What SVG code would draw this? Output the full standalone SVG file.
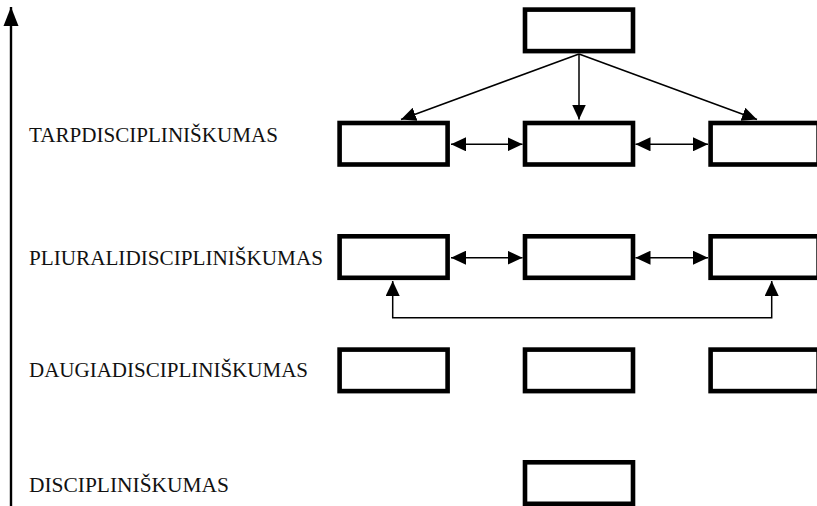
<svg xmlns="http://www.w3.org/2000/svg" width="817" height="506" viewBox="0 0 817 506">
<style>
.box{fill:#fff;stroke:#000;stroke-width:4.6}
.ln{fill:none;stroke:#000;stroke-width:1.5}
.lbl{font-family:"Liberation Serif","Times New Roman",serif;font-size:20px;fill:#111}
</style>
<defs>
<marker id="ah" markerUnits="userSpaceOnUse" markerWidth="16" markerHeight="14" refX="15" refY="7" orient="auto-start-reverse" viewBox="0 0 16 14">
<path d="M0,0 L15,7 L0,14 Z" fill="#000"/>
</marker>
<marker id="ax" markerUnits="userSpaceOnUse" markerWidth="20" markerHeight="16" refX="19" refY="8" orient="auto" viewBox="0 0 20 16">
<path d="M0,0.5 L19,8 L0,15.5 Z" fill="#000"/>
</marker>
</defs>
<g id="axis">
<line x1="11" y1="506" x2="11" y2="7" stroke="#000" stroke-width="2.4" marker-end="url(#ax)"/>
</g>
<g id="labels">
<text class="lbl" x="29" y="142" textLength="249" lengthAdjust="spacingAndGlyphs">TARPDISCIPLINIŠKUMAS</text>
<text class="lbl" x="29" y="265" textLength="294" lengthAdjust="spacingAndGlyphs">PLIURALIDISCIPLINIŠKUMAS</text>
<text class="lbl" x="29" y="377" textLength="279" lengthAdjust="spacingAndGlyphs">DAUGIADISCIPLINIŠKUMAS</text>
<text class="lbl" x="29" y="492" textLength="200" lengthAdjust="spacingAndGlyphs">DISCIPLINIŠKUMAS</text>
</g>
<g id="connectors">
<line class="ln" x1="579" y1="54" x2="401" y2="119.5" marker-end="url(#ah)"/>
<line class="ln" x1="579" y1="54" x2="579" y2="119.5" marker-end="url(#ah)"/>
<line class="ln" x1="579" y1="54" x2="757" y2="119.5" marker-end="url(#ah)"/>
<line class="ln" x1="451" y1="144.3" x2="522.5" y2="144.3" marker-start="url(#ah)" marker-end="url(#ah)"/>
<line class="ln" x1="635.5" y1="144.3" x2="708" y2="144.3" marker-start="url(#ah)" marker-end="url(#ah)"/>
<line class="ln" x1="451" y1="257.7" x2="522.5" y2="257.7" marker-start="url(#ah)" marker-end="url(#ah)"/>
<line class="ln" x1="635.5" y1="257.7" x2="708" y2="257.7" marker-start="url(#ah)" marker-end="url(#ah)"/>
<polyline class="ln" points="392.7,281 392.7,317.7 771.7,317.7 771.7,281" marker-start="url(#ah)" marker-end="url(#ah)"/>
</g>
<g id="n-top"><rect class="box" x="525" y="9.6" width="108" height="41.5"/></g>
<g id="n-t1"><rect class="box" x="339.6" y="123" width="108" height="41.5"/></g>
<g id="n-t2"><rect class="box" x="525" y="123" width="108" height="41.5"/></g>
<g id="n-t3"><rect class="box" x="710.6" y="123" width="108" height="41.5"/></g>
<g id="n-p1"><rect class="box" x="339.6" y="236.3" width="108" height="41.5"/></g>
<g id="n-p2"><rect class="box" x="525" y="236.3" width="108" height="41.5"/></g>
<g id="n-p3"><rect class="box" x="710.6" y="236.3" width="108" height="41.5"/></g>
<g id="n-d1"><rect class="box" x="339.6" y="349.6" width="108" height="41.5"/></g>
<g id="n-d2"><rect class="box" x="525" y="349.6" width="108" height="41.5"/></g>
<g id="n-d3"><rect class="box" x="710.6" y="349.6" width="108" height="41.5"/></g>
<g id="n-s1"><rect class="box" x="525" y="462.3" width="108" height="41.5"/></g>
</svg>
